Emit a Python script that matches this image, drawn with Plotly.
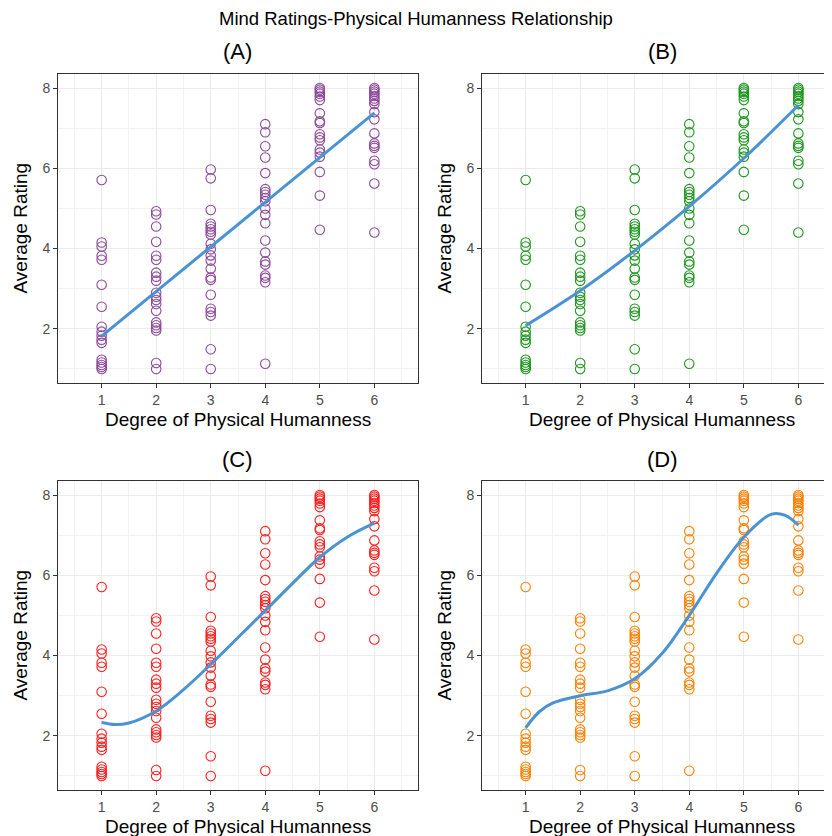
import plotly.graph_objects as go

# ---- data ----
humanness = [1, 2, 3, 4, 5, 6]
ratings_1 = [5.71, 4.15, 4.05, 3.82, 3.72, 3.10, 2.55, 2.05, 1.93, 1.83, 1.73, 1.65, 1.23, 1.16, 1.10, 1.05, 1.00]
ratings_2 = [4.93, 4.85, 4.55, 4.17, 3.82, 3.72, 3.40, 3.30, 3.20, 2.90, 2.80, 2.72, 2.62, 2.45, 2.16, 2.09, 2.02, 1.96, 1.15, 1.00]
ratings_3 = [5.97, 5.75, 4.96, 4.62, 4.55, 4.48, 4.42, 4.35, 4.12, 3.98, 3.83, 3.70, 3.50, 3.28, 3.22, 2.85, 2.50, 2.42, 2.33, 1.49, 1.00]
ratings_4 = [7.10, 6.90, 6.55, 6.27, 5.88, 5.48, 5.41, 5.34, 5.26, 5.18, 5.00, 4.84, 4.63, 4.20, 3.90, 3.68, 3.60, 3.33, 3.27, 3.16, 1.13]
ratings_5 = [8.00, 7.96, 7.91, 7.86, 7.79, 7.70, 7.37, 7.17, 7.13, 6.85, 6.77, 6.70, 6.47, 6.39, 6.29, 5.91, 5.32, 4.47]
ratings_6 = [8.00, 7.96, 7.91, 7.86, 7.80, 7.74, 7.68, 7.60, 7.40, 7.22, 6.87, 6.62, 6.56, 6.51, 6.19, 6.10, 5.62, 4.40]
ratings = [ratings_1, ratings_2, ratings_3, ratings_4, ratings_5, ratings_6]

fit_A_x = [1, 6]
fit_A_y = [1.82, 7.38]
fit_B_x = [1, 2, 3, 4, 5, 6]
fit_B_y = [2.08, 2.95, 3.95, 5.05, 6.25, 7.57]
fit_C_x = [1, 1.25, 1.5, 2, 2.5, 3, 3.5, 4, 4.5, 5, 5.5, 6]
fit_C_y = [2.33, 2.28, 2.32, 2.62, 3.15, 3.78, 4.45, 5.12, 5.80, 6.45, 6.95, 7.30]
fit_D_x = [1, 1.25, 1.5, 2, 2.5, 3, 3.5, 4, 4.5, 5, 5.5, 5.75, 6]
fit_D_y = [2.20, 2.60, 2.82, 3.00, 3.12, 3.42, 4.05, 5.00, 6.05, 6.95, 7.52, 7.50, 7.25]

panel_titles = ["(A)", "(B)", "(C)", "(D)"]
point_colors = ["#8E4A9A", "#1E961E", "#FF1F1F", "#FF8000"]
line_color = "#4A93D3"
fits = [(fit_A_x, fit_A_y), (fit_B_x, fit_B_y), (fit_C_x, fit_C_y), (fit_D_x, fit_D_y)]

xs = [h for h, grp in zip(humanness, ratings) for _ in grp]
ys = [v for grp in ratings for v in grp]

# The page has an 8px body margin; the original image is a crop of a larger figure.
W, H = 850, 850
OFF = 8
FONT = "Liberation Sans, Arial, Helvetica, sans-serif"


def fx(p):
    return (p - OFF) / W


def fy(p):
    return 1 - (p - OFF) / H


# panel pixel boxes in screenshot coordinates (left, right, top, bottom)
boxes = [(58, 418, 74, 383), (482, 842, 74, 383), (58, 418, 481, 790), (482, 842, 481, 790)]

fig = go.Figure()
annotations = []
for i in range(4):
    ax = "" if i == 0 else str(i + 1)
    xa, ya = "x" + ax, "y" + ax
    fig.add_trace(go.Scatter(x=xs, y=ys, mode="markers", xaxis=xa, yaxis=ya,
                             marker=dict(symbol="circle-open", size=9.5, color=point_colors[i],
                                         line=dict(width=1.1, color=point_colors[i])),
                             showlegend=False, hoverinfo="skip"))
    cxs, cys = fits[i]
    fig.add_trace(go.Scatter(x=cxs, y=cys, mode="lines", xaxis=xa, yaxis=ya,
                             line=dict(color=line_color, width=3, shape="spline", smoothing=1),
                             showlegend=False, hoverinfo="skip"))
    l, r, t, b = boxes[i]
    common = dict(showgrid=True, gridcolor="#EBEBEB", gridwidth=1.1,
                  ticks="outside", ticklen=4, tickwidth=1, tickcolor="#333333",
                  showline=True, linecolor="#333333", linewidth=1, mirror=True,
                  tickfont=dict(family=FONT, size=14, color="#4D4D4D"), zeroline=False)
    fig.update_layout(**{
        ("xaxis" + ax): dict(domain=[fx(l), fx(r)], range=[0.2, 6.8], anchor=ya,
                             tick0=0, dtick=1,
                             minor=dict(dtick=0.5, tick0=0.5, showgrid=True, gridcolor="#F2F2F2",
                                        gridwidth=0.6, ticks=""),
                             **common),
        ("yaxis" + ax): dict(domain=[fy(b), fy(t)], range=[0.65, 8.35], anchor=xa,
                             tick0=0, dtick=2,
                             minor=dict(dtick=1, tick0=0, showgrid=True, gridcolor="#F2F2F2",
                                        gridwidth=0.6, ticks=""),
                             **common),
    })
    cx = (l + r) / 2
    annotations.append(dict(text=panel_titles[i], x=fx(cx), y=fy(t - 22), xref="paper", yref="paper",
                            showarrow=False, font=dict(family=FONT, size=22, color="#000000"),
                            xanchor="center", yanchor="middle"))
    annotations.append(dict(text="Degree of Physical Humanness", x=fx(cx), y=fy(b + 36),
                            xref="paper", yref="paper", showarrow=False,
                            font=dict(family=FONT, size=19, color="#000000"),
                            xanchor="center", yanchor="middle"))
    annotations.append(dict(text="Average Rating", x=fx(l - 38), y=fy((t + b) / 2),
                            xref="paper", yref="paper", showarrow=False, textangle=-90,
                            font=dict(family=FONT, size=19, color="#000000"),
                            xanchor="center", yanchor="middle"))

annotations.append(dict(text="Mind Ratings-Physical Humanness Relationship", x=fx(416), y=fy(19),
                        xref="paper", yref="paper", showarrow=False,
                        font=dict(family=FONT, size=18.5, color="#000000"),
                        xanchor="center", yanchor="middle"))

fig.update_layout(width=W, height=H, margin=dict(l=0, r=0, t=0, b=0),
                  paper_bgcolor="white", plot_bgcolor="white",
                  annotations=annotations, showlegend=False)

fig.write_html("out.html")
